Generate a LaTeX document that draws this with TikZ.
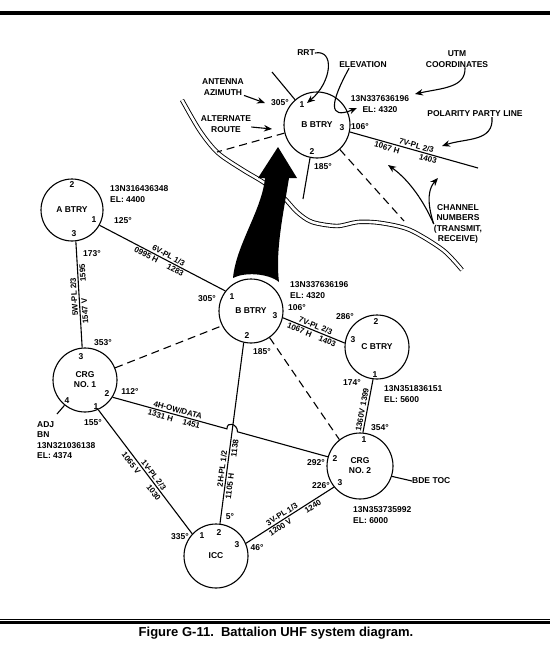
\documentclass[tikz,border=0pt]{standalone}
\usepackage{fontspec}
\setmainfont{Liberation Sans}
\usetikzlibrary{
	arrows.meta,
	calc,
	intersections
}
\tikzset{
	>={Stealth[length=8pt, width=6.5pt]},
	sitenode/.style={circle, draw, line width=1.1pt, minimum size=64pt, inner sep=0pt, align=center, font=\bfseries\fontsize{8.5}{10}\selectfont},
	radiolink/.style={line width=1.1pt},
	altlink/.style={radiolink, dash pattern=on 8pt off 5pt},
	linklabel/.style={sloped, inner sep=1.5pt, font=\bfseries\fontsize{8}{9}\selectfont},
	portnum/.style={inner sep=0pt, font=\bfseries\fontsize{8.5}{10}\selectfont},
	infotext/.style={inner sep=0pt, align=left, font=\bfseries\fontsize{8.5}{10.5}\selectfont},
	notearrow/.style={->, line width=1.1pt},
	roadline/.style={double, double distance=2.6pt, line width=0.9pt}
}

\begin{document}
\begin{tikzpicture}[x=1pt, y=-1pt]
	\useasboundingbox (0,0) rectangle (550,656);

	\draw[line width=3.5pt] (0,13) -- (550,13);
	\draw[line width=1pt] (0,619) -- (550,619);
	\draw[line width=3pt] (0,622.8) -- (550,622.8);

	\draw[roadline] plot[smooth] coordinates {(182,100) (200,131) (218,153) (243,170) (263,182) (283,197) (297,212) (312,222) (337,226) (358,222) (381,223) (410,230) (443,250) (462,270)};

	\node[sitenode, minimum size=66pt] (topbtry) at (317,125) {B BTRY};
	\node[sitenode, minimum size=62pt] (abtry) at (72,210) {A BTRY};
	\node[sitenode] (bbtry) at (251,311) {B BTRY};
	\node[sitenode] (cbtry) at (377,347) {C BTRY};
	\node[sitenode] (crgone) at (85,380) {CRG\\NO. 1};
	\node[sitenode, minimum size=66pt] (crgtwo) at (360,466) {CRG\\NO. 2};
	\node[sitenode] (icc) at (216,556) {ICC};

	\fill (233,278) .. controls (236,245) and (262,210) .. (265,178) -- (258,178) -- (278,147) -- (297,178) -- (289,178) .. controls (284,210) and (275,250) .. (279,282) .. controls (268,273) and (244,272) .. (233,278) -- cycle;

	\coordinate (azimuthend) at (272,72);
	\coordinate (topeast) at (478,168);
	\coordinate (topsouth) at (303,199);
	\coordinate (topwest) at (217,152);
	\coordinate (topsoutheast) at (404,221);
	\coordinate (adjend) at (57,414);

	\draw[radiolink] (topbtry.131) -- (azimuthend);
	\draw[radiolink] (topbtry.-12) -- node[linklabel, above, pos=0.51] {7V-PL 2/3} node[linklabel, below, pos=0.3] {1067 H} node[linklabel, below, pos=0.62] {1403} (topeast);
	\draw[radiolink] (topbtry.-102) -- (topsouth);
	\draw[altlink] (topbtry.-166) -- (topwest);
	\draw[altlink] (topbtry.-47) -- (topsoutheast);

	\node[portnum] (ptop1) at (302,105) {1};
	\node[portnum] (ptop2) at (312,152) {2};
	\node[portnum] (ptop3) at (342,128) {3};
	\node[portnum] (degtop1) at (280,103) {305°};
	\node[portnum] (degtop3) at (360,127) {106°};
	\node[portnum] (degtop2) at (323,167) {185°};
	\node[infotext, align=center] (topinfo) at (380,104) {13N337636196\\EL: 4320};

	\node[infotext, align=center] (rrt) at (306,53) {RRT};
	\node[infotext, align=center] (elevation) at (363,65) {ELEVATION};
	\node[infotext, align=center] (utm) at (457,59) {UTM\\COORDINATES};
	\node[infotext, align=center] (polarity) at (475,114) {POLARITY PARTY LINE};
	\node[infotext, align=center] (antenna) at (223,87) {ANTENNA\\AZIMUTH};
	\node[infotext, align=center] (alternate) at (226,124) {ALTERNATE\\ROUTE};
	\node[infotext, align=center] (channel) at (458,224) {CHANNEL\\NUMBERS\\(TRANSMIT,\\RECEIVE)};

	\draw[notearrow] (rrt.east) .. controls (335,49) and (332,82) .. (307,103);
	\draw[notearrow] ([xshift=10pt]elevation.south west) .. controls (330,103) and (328,120) .. (357,108);
	\draw[notearrow] ([xshift=8pt]utm.south) .. controls (466,88) and (442,88) .. (415,94);
	\draw[notearrow] ([xshift=17pt]polarity.south) .. controls (494,142) and (466,138) .. (442,146);
	\draw[notearrow] (antenna.south east) -- (265,103);
	\draw[notearrow] ([yshift=-3pt]alternate.east) -- (272,129);
	\draw[notearrow] (channel.west) .. controls (421,195) and (405,177) .. (388,165);
	\draw[notearrow] (channel.west) .. controls (426,200) and (429,188) .. (438,178);

	\draw[radiolink] (abtry.-29) -- node[linklabel, above, pos=0.53] {6V-PL 1/3} node[linklabel, below, pos=0.39] {0995 H} node[linklabel, below, pos=0.62] {1283} (bbtry.142);
	\draw[radiolink] (crgone.95) -- node[linklabel, allow upside down, above, pos=0.48] {5W-PL 2/3} node[linklabel, allow upside down, below, pos=0.34] {1547 V} node[linklabel, allow upside down, below, pos=0.7] {1595} (abtry.-83);
	\draw[radiolink] (bbtry.-12) -- node[linklabel, above, pos=0.5] {7V-PL 2/3} node[linklabel, below, pos=0.3] {1067 H} node[linklabel, below, pos=0.75] {1403} (cbtry.173);
	\draw[radiolink] (crgtwo.85) -- node[linklabel, above, pos=0.22] {1360V} node[linklabel, above, pos=0.65] {1399} (cbtry.-97);
	\draw[altlink] (crgone.22) -- (bbtry.207);
	\draw[altlink] (bbtry.-55) -- (crgtwo.128);
	\draw[radiolink, name path=twohlink] (icc.83) -- node[linklabel, above, pos=0.3] {2H-PL 1/2} node[linklabel, below, pos=0.21] {1105 H} node[linklabel, below, pos=0.42] {1138} (bbtry.-103);
	\path[name path=fourhlink] (crgone.-32) -- (crgtwo.164);
	\path[name intersections={of=twohlink and fourhlink, by=hop}];
	\draw[radiolink] (crgone.-32) -- node[linklabel, above, pos=0.56] {4H-OW/DATA} node[linklabel, below, pos=0.43] {1331 H} node[linklabel, below, pos=0.7] {1451} ($(hop)!5.5pt!(crgone.-32)$) .. controls +(0,-8) and +(0,-8) .. ($(hop)!5.5pt!(crgtwo.164)$) -- (crgtwo.164);
	\draw[radiolink] (crgone.-66) -- node[linklabel, above, pos=0.55] {1V-PL 2/3} node[linklabel, below=1pt, pos=0.4] {1065 V} node[linklabel, below=1pt, pos=0.64] {1030} (icc.137);
	\draw[radiolink] (icc.23) -- node[linklabel, above, pos=0.44] {3V-PL 1/3} node[linklabel, below, pos=0.36] {1200 V} node[linklabel, below, pos=0.73] {1240} (crgtwo.219);

	\node[infotext] (bdetoc) at (412,481) [anchor=west] {BDE TOC};
	\draw[radiolink] (crgtwo.-18) -- (bdetoc.west);
	\draw[radiolink] (crgone.-129) -- (adjend);

	\node[portnum] (pa2) at (72,185) {2};
	\node[portnum] (pa1) at (94,220) {1};
	\node[portnum] (pa3) at (74,234) {3};
	\node[portnum] (pb1) at (232,297) {1};
	\node[portnum] (pb3) at (275,316) {3};
	\node[portnum] (pb2) at (247,336) {2};
	\node[portnum] (pc2) at (376,322) {2};
	\node[portnum] (pc3) at (353,340) {3};
	\node[portnum] (pc1) at (375,375) {1};
	\node[portnum] (pone3) at (81,357) {3};
	\node[portnum] (pone2) at (107,394) {2};
	\node[portnum] (pone4) at (67,401) {4};
	\node[portnum] (pone1) at (96,407) {1};
	\node[portnum] (ptwo1) at (364,440) {1};
	\node[portnum] (ptwo2) at (335,459) {2};
	\node[portnum] (ptwo3) at (340,483) {3};
	\node[portnum] (picc1) at (202,536) {1};
	\node[portnum] (picc2) at (219,533) {2};
	\node[portnum] (picc3) at (237,545) {3};

	\node[portnum] (dega1) at (123,221) {125°};
	\node[portnum] (dega3) at (92,254) {173°};
	\node[portnum] (degb1) at (207,299) {305°};
	\node[portnum] (degb3) at (297,308) {106°};
	\node[portnum] (degb2) at (262,352) {185°};
	\node[portnum] (degc2) at (345,317) {286°};
	\node[portnum] (degc1) at (352,383) {174°};
	\node[portnum] (degtwo1) at (380,428) {354°};
	\node[portnum] (degone3) at (103,343) {353°};
	\node[portnum] (degone2) at (130,392) {112°};
	\node[portnum] (degone1) at (93,423) {155°};
	\node[portnum] (degtwo2) at (316,463) {292°};
	\node[portnum] (degtwo3) at (321,486) {226°};
	\node[portnum] (degicc1) at (180,537) {335°};
	\node[portnum] (degicc2) at (230,517) {5°};
	\node[portnum] (degicc3) at (257,548) {46°};

	\node[infotext, anchor=west] (ainfo) at (110,194) {13N316436348\\EL: 4400};
	\node[infotext, anchor=west] (binfo) at (290,290) {13N337636196\\EL: 4320};
	\node[infotext, anchor=west] (cinfo) at (384,394) {13N351836151\\EL: 5600};
	\node[infotext, anchor=west] (twoinfo) at (353,515) {13N353735992\\EL: 6000};
	\node[infotext, anchor=west] (adjbn) at (37,440) {ADJ\\BN\\13N321036138\\EL: 4374};

	\node[font=\bfseries\fontsize{13}{15}\selectfont] (caption) at (276,633) {Figure G-11.\ \ Battalion UHF system diagram.};
\end{tikzpicture}
\end{document}
